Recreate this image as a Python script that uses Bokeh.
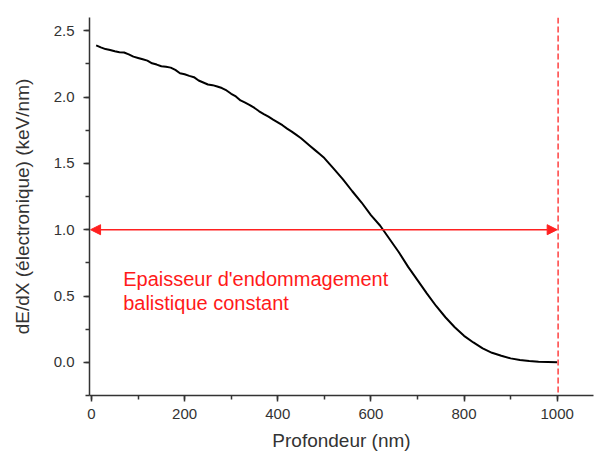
from bokeh.plotting import figure
from bokeh.models import Range1d, SingleIntervalTicker, NumeralTickFormatter, Arrow, NormalHead, Span, Label
from bokeh.embed import file_html
from bokeh.resources import INLINE

# Data
depth_nm = [10, 20, 30, 40, 50, 60, 70, 80, 90, 100, 110, 120, 130, 140, 150, 160, 170, 180, 190, 200,
            210, 220, 230, 240, 250, 260, 270, 280, 290, 300, 310, 320, 330, 340, 350, 360, 370, 380, 390, 400,
            410, 420, 430, 440, 450, 460, 470, 480, 490, 500, 520, 540, 560, 580, 600, 620, 640, 660, 680, 700,
            720, 740, 760, 780, 800, 820, 840, 860, 880, 900, 920, 940, 960, 980, 1000]
dedx = [2.390, 2.375, 2.362, 2.355, 2.345, 2.338, 2.336, 2.322, 2.305, 2.295, 2.285, 2.275, 2.255, 2.245, 2.232,
        2.228, 2.222, 2.205, 2.180, 2.172, 2.160, 2.150, 2.125, 2.110, 2.095, 2.090, 2.080, 2.068, 2.050, 2.025,
        2.005, 1.975, 1.958, 1.940, 1.918, 1.893, 1.872, 1.852, 1.830, 1.810, 1.788, 1.762, 1.740, 1.715, 1.690,
        1.660, 1.630, 1.600, 1.570, 1.540, 1.460, 1.380, 1.290, 1.205, 1.110, 1.030, 0.930, 0.830, 0.720, 0.620,
        0.520, 0.425, 0.340, 0.265, 0.200, 0.150, 0.105, 0.072, 0.050, 0.030, 0.018, 0.010, 0.005, 0.003, 0.001]

arrow_y = 1.0
arrow_x_start = -2
arrow_x_end = 1000
limit_x = 1002
note_lines = ["Epaisseur d'endommagement", "balistique constant"]

FONT = "Liberation Sans"

p = figure(width=595, height=453, output_backend="svg", toolbar_location=None,
           x_range=Range1d(-4.3, 1078), y_range=Range1d(-0.25, 2.6),
           min_border_left=89, min_border_right=2, min_border_top=17, min_border_bottom=58)
p.outline_line_color = None
p.xgrid.visible = False
p.ygrid.visible = False
p.background_fill_color = "white"
p.border_fill_color = "white"

p.line(depth_nm, dedx, line_color="black", line_width=2)

p.add_layout(Span(location=limit_x, dimension="height", line_color="#ff4040",
                  line_width=1.5, line_dash="6 3"))

p.add_layout(Arrow(x_start=arrow_x_start, y_start=arrow_y, x_end=arrow_x_end, y_end=arrow_y,
                   line_color="#ff2020", line_width=1.5,
                   start=NormalHead(size=10, fill_color="#ff2020", line_color="#ff2020"),
                   end=NormalHead(size=10, fill_color="#ff2020", line_color="#ff2020")))

p.add_layout(Label(x=68, y=0.631, text=note_lines[0], text_color="#ff1a1a", text_font=FONT,
                   text_font_size="20px", text_baseline="alphabetic"))
p.add_layout(Label(x=68, y=0.45, text=note_lines[1], text_color="#ff1a1a", text_font=FONT,
                   text_font_size="20px", text_baseline="alphabetic"))

p.xaxis.ticker = SingleIntervalTicker(interval=200, num_minor_ticks=2)
p.yaxis.ticker = SingleIntervalTicker(interval=0.5, num_minor_ticks=2)
p.yaxis.formatter = NumeralTickFormatter(format="0.0")
p.xaxis.axis_label = "Profondeur (nm)"
p.yaxis.axis_label = "dE/dX (électronique) (keV/nm)"

for ax in (p.xaxis[0], p.yaxis[0]):
    ax.axis_line_color = "#333333"
    ax.axis_line_width = 1.5
    ax.major_tick_line_color = "#333333"
    ax.minor_tick_line_color = "#333333"
    ax.major_tick_line_width = 1.5
    ax.minor_tick_line_width = 1.5
    ax.major_tick_in = 0
    ax.major_tick_out = 6
    ax.minor_tick_in = 0
    ax.minor_tick_out = 4
    ax.major_label_text_font = FONT
    ax.major_label_text_font_size = "15px"
    ax.major_label_text_color = "#333333"
    ax.axis_label_text_font = FONT
    ax.axis_label_text_font_size = "19px"
    ax.axis_label_text_font_style = "normal"
    ax.axis_label_text_color = "#333333"

p.yaxis.major_label_standoff = 9
p.yaxis.axis_label_standoff = 18
p.xaxis.major_label_standoff = 7
p.xaxis.axis_label_standoff = 8

open("out.html", "w").write(file_html(p, INLINE))
